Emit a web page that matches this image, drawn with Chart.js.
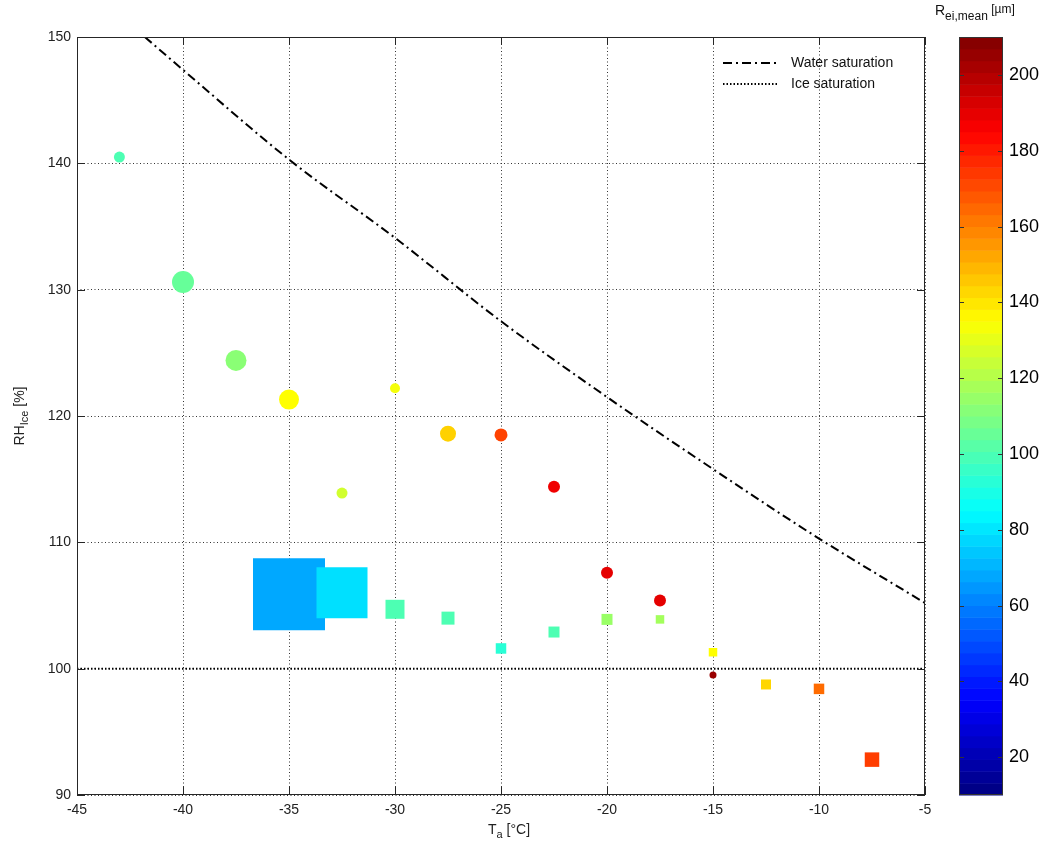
<!DOCTYPE html>
<html>
<head>
<meta charset="utf-8">
<script src="https://cdn.jsdelivr.net/npm/chart.js@4.4.0/dist/chart.umd.min.js"></script>
<style>
  html, body { margin: 0; padding: 0; background: #fff; }
  #wrap { width: 1048px; height: 847px; }
</style>
</head>
<body>
<div id="wrap"><canvas id="rhChart" width="1048" height="847"></canvas></div>
<script>
// circles
const circleT = [-43, -40, -37.5, -35, -32.5, -30, -27.5, -25, -22.5, -20, -17.5, -15];
const circleRH = [140.5, 130.6, 124.4, 121.3, 113.9, 122.2, 118.6, 118.5, 114.4, 107.6, 105.4, 99.5];
const circleR = [100, 105, 112, 135, 126, 133, 144, 172, 188, 190, 190, 205];
const circleSize = [5.5, 11, 10.5, 10, 5.5, 5, 8, 6.5, 6, 6, 6, 3.5]; // radius px

// squares
const squareT = [-35, -32.5, -30, -27.5, -25, -22.5, -20, -17.5, -15, -12.5, -10, -7.5];
const squareRH = [105.9, 106.0, 104.7, 104.0, 101.6, 102.9, 103.9, 103.9, 101.3, 98.75, 98.4, 92.8];
const squareR = [68, 79, 100, 100, 93, 100, 115, 117, 135, 143, 164, 173];
const squareSize = [72, 51, 19, 13, 10.5, 11, 11, 8.5, 8.5, 10, 10.5, 14.5]; // side px

// saturation lines
const waterT = [-41.8, -40, -35, -30, -25, -20, -15, -10, -5];
const waterRH = [150, 147.4, 140.3, 134.1, 127.5, 121.5, 115.8, 110.3, 105.2];
const iceT = [-45, -5];
const iceRH = [100, 100];

// ticks
const xTicks = [-45, -40, -35, -30, -25, -20, -15, -10, -5];
const yTicks = [90, 100, 110, 120, 130, 140, 150];
const cbTicks = [20, 40, 60, 80, 100, 120, 140, 160, 180, 200];
const cbMin = 10, cbMax = 210;

const FONT = "'Liberation Sans', Arial, sans-serif";
const waterDash = [9, 4, 2, 4];
const iceDash = [1.5, 2];

function jet(v) {
  const t = Math.min(1, Math.max(0, (v - cbMin) / (cbMax - cbMin)));
  const c = k => Math.round(255 * Math.min(1, Math.max(0, 1.5 - Math.abs(k))));
  return 'rgb(' + c(4 * t - 3) + ',' + c(4 * t - 2) + ',' + c(4 * t - 1) + ')';
}

// text with sub/superscript parts
function drawParts(ctx, parts, x, y, align) {
  let w = 0;
  parts.forEach(p => { ctx.font = p.size + 'px ' + FONT; p.w = ctx.measureText(p.t).width; w += p.w; });
  let cx = align === 'left' ? x : x - w / 2;
  ctx.textAlign = 'left';
  ctx.textBaseline = 'middle';
  parts.forEach(p => {
    ctx.font = p.size + 'px ' + FONT;
    ctx.fillText(p.t, cx, y + (p.dy || 0));
    cx += p.w;
  });
}

function seg(ctx, x1, y1, x2, y2) {
  ctx.beginPath(); ctx.moveTo(x1, y1); ctx.lineTo(x2, y2); ctx.stroke();
}

const decor = {
  id: 'decor',
  afterDraw(chart) {
    const { ctx, chartArea: a, scales: { x, y } } = chart;
    ctx.save();
    ctx.strokeStyle = '#262626';
    ctx.lineWidth = 1;
    ctx.setLineDash([]);
    ctx.strokeRect(a.left + 0.5, a.top + 0.5, a.width - 1, a.height - 1);

    // inward tick marks
    xTicks.forEach(v => {
      const px = Math.round(x.getPixelForValue(v)) + 0.5;
      seg(ctx, px, a.bottom, px, a.bottom - 8);
      seg(ctx, px, a.top, px, a.top + 8);
    });
    yTicks.forEach(v => {
      const py = Math.round(y.getPixelForValue(v)) + 0.5;
      seg(ctx, a.left, py, a.left + 8, py);
      seg(ctx, a.right, py, a.right - 8, py);
    });

    // axis titles
    ctx.fillStyle = '#222';
    drawParts(ctx, [{ t: 'T', size: 14 }, { t: 'a', size: 11, dy: 5 }, { t: ' [°C]', size: 14 }], (a.left + a.right) / 2 + 8, 830);
    ctx.save();
    ctx.translate(20, (a.top + a.bottom) / 2);
    ctx.rotate(-Math.PI / 2);
    drawParts(ctx, [{ t: 'RH', size: 14 }, { t: 'Ice', size: 11, dy: 5 }, { t: ' [%]', size: 14 }], 0, 0);
    ctx.restore();

    // legend
    const lx1 = 723, lx2 = 778, ly1 = 63, ly2 = 84;
    ctx.strokeStyle = '#000';
    ctx.lineWidth = 2;
    ctx.setLineDash(waterDash);
    seg(ctx, lx1, ly1, lx2, ly1);
    ctx.setLineDash(iceDash);
    seg(ctx, lx1, ly2, lx2, ly2);
    ctx.setLineDash([]);
    ctx.fillStyle = '#111';
    ctx.font = '14px ' + FONT;
    ctx.textAlign = 'left';
    ctx.textBaseline = 'middle';
    ctx.fillText('Water saturation', 791, ly1);
    ctx.fillText('Ice saturation', 791, ly2);

    // colorbar
    const cbL = 959, cbR = 1003, cbT = a.top, cbB = a.bottom;
    const cbY = v => cbB - (v - cbMin) / (cbMax - cbMin) * (cbB - cbT);
    const n = 64;
    for (let i = 0; i < n; i++) {
      const v0 = cbMin + i / n * (cbMax - cbMin);
      const v1 = cbMin + (i + 1) / n * (cbMax - cbMin);
      ctx.fillStyle = jet((v0 + v1) / 2);
      ctx.fillRect(cbL, cbY(v1), cbR - cbL, cbY(v0) - cbY(v1) + 0.5);
    }
    ctx.strokeStyle = '#333';
    ctx.lineWidth = 1;
    ctx.strokeRect(cbL + 0.5, cbT + 0.5, cbR - cbL - 1, cbB - cbT - 1);
    ctx.fillStyle = '#000';
    ctx.font = '18px ' + FONT;
    ctx.textAlign = 'left';
    ctx.textBaseline = 'middle';
    cbTicks.forEach(v => {
      const py = Math.round(cbY(v)) + 0.5;
      seg(ctx, cbL, py, cbL + 5, py);
      seg(ctx, cbR, py, cbR - 5, py);
      ctx.fillText(String(v), 1009, py);
    });
    ctx.fillStyle = '#111';
    drawParts(ctx, [{ t: 'R', size: 14 }, { t: 'ei,mean', size: 12, dy: 6 }, { t: ' [µm]', size: 12, dy: -1 }], 935, 11, 'left');
    ctx.restore();
  }
};

new Chart(document.getElementById('rhChart'), {
  type: 'scatter',
  data: {
    datasets: [
      {
        label: 'Circles',
        data: circleT.map((t, i) => ({ x: t, y: circleRH[i] })),
        pointStyle: 'circle',
        pointRadius: circleSize,
        backgroundColor: circleR.map(jet),
        borderWidth: 0
      },
      {
        label: 'Squares',
        data: squareT.map((t, i) => ({ x: t, y: squareRH[i] })),
        pointStyle: 'rect',
        pointRadius: squareSize.map(s => s / Math.SQRT2),
        backgroundColor: squareR.map(jet),
        borderWidth: 0
      },
      {
        label: 'Water saturation',
        data: waterT.map((t, i) => ({ x: t, y: waterRH[i] })),
        showLine: true,
        borderColor: '#000',
        borderWidth: 2,
        borderDash: waterDash,
        pointRadius: 0,
        cubicInterpolationMode: 'monotone'
      },
      {
        label: 'Ice saturation',
        data: iceT.map((t, i) => ({ x: t, y: iceRH[i] })),
        showLine: true,
        borderColor: '#000',
        borderWidth: 2,
        borderDash: iceDash,
        pointRadius: 0
      }
    ]
  },
  options: {
    responsive: false,
    animation: false,
    events: [],
    layout: { autoPadding: false, padding: { top: 37, right: 123, bottom: 0, left: 0 } },
    plugins: { legend: { display: false }, tooltip: { enabled: false } },
    scales: {
      x: {
        type: 'linear',
        min: -45,
        max: -5,
        afterBuildTicks: s => { s.ticks = xTicks.map(v => ({ value: v })); },
        afterFit: s => { s.height = 52; },
        ticks: { color: '#222', font: { family: FONT, size: 14 }, padding: 7, maxRotation: 0, autoSkip: false },
        grid: { color: '#333', lineWidth: 1, drawTicks: false },
        border: { display: false, dash: [1, 2.5] }
      },
      y: {
        type: 'linear',
        min: 90,
        max: 150,
        afterBuildTicks: s => { s.ticks = yTicks.map(v => ({ value: v })); },
        afterFit: s => { s.width = 77; },
        ticks: { color: '#222', font: { family: FONT, size: 14 }, padding: 6, autoSkip: false },
        grid: { color: '#333', lineWidth: 1, drawTicks: false },
        border: { display: false, dash: [1, 2.5] }
      }
    }
  },
  plugins: [decor]
});
</script>
</body>
</html>
